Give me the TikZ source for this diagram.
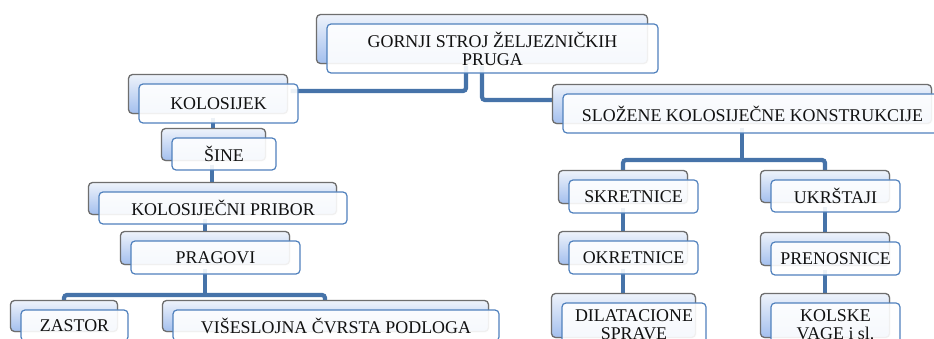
\documentclass[tikz,border=0pt]{standalone}
\usepackage{fontspec}
\setmainfont{Liberation Serif}
\usetikzlibrary{calc,backgrounds,shadows}
\definecolor{linec}{HTML}{4673A9}
\definecolor{frontdraw}{HTML}{5081BD}
\definecolor{backdraw}{HTML}{6E6E6E}
\definecolor{boxtop}{HTML}{EEF3FB}
\definecolor{boxbot}{HTML}{A3BFEE}
\definecolor{txt}{HTML}{111111}
\tikzset{
  backbox/.style={draw=backdraw, line width=1.3pt, rounded corners=4pt,
    top color=boxtop, bottom color=boxbot, inner sep=0pt,
    drop shadow={shadow xshift=0.8pt, shadow yshift=-0.8pt, opacity=0.25}},
  frontbox/.style={draw=frontdraw, line width=1.2pt, rounded corners=4pt,
    fill=white, fill opacity=0.9, text opacity=1, text=txt, inner sep=0pt,
    align=center, font=\fontsize{17.9}{18}\selectfont},
  conn/.style={draw=linec, line width=4.2pt, rounded corners=3pt}
}
\newcommand{\ibox}[6]{%
  \node[backbox, minimum width=#4pt, minimum height=#5pt] (#1B) at ({#2-10.5},{#3-9.5}) {};
  \node[frontbox, minimum width=#4pt, minimum height=#5pt] (#1) at (#2,#3) {#6};}
\begin{document}
\begin{tikzpicture}[x=1pt,y=-1pt]
\useasboundingbox (0,0) rectangle (934,339);
\clip (0,0) rectangle (934,339);
% boxes
\ibox{gornji}{492.5}{48.5}{331}{49}{GORNJI STROJ ŽELJEZNIČKIH\\PRUGA}
\ibox{kolosijek}{218.5}{103.5}{159}{39}{KOLOSIJEK}
\ibox{sine}{224}{154}{104}{32}{ŠINE}
\ibox{pribor}{223}{208}{248}{32}{KOLOSIJEČNI PRIBOR}
\ibox{pragovi}{215.5}{257.5}{169}{33}{PRAGOVI}
\ibox{zastor}{74.5}{325.5}{107}{31}{ZASTOR}
\ibox{visesl}{336}{325.5}{326}{31}{VIŠESLOJNA ČVRSTA PODLOGA}
\ibox{slozene}{752.5}{113.5}{379}{39}{SLOŽENE KOLOSIJEČNE KONSTRUKCIJE}
\ibox{skretnice}{633.5}{196.5}{129}{33}{SKRETNICE}
\ibox{ukrstaji}{835.5}{196}{129}{32}{UKRŠTAJI}
\ibox{okretnice}{633.5}{257.5}{129}{33}{OKRETNICE}
\ibox{prenosnice}{835.5}{258.5}{129}{33}{PRENOSNICE}
\ibox{dilat}{634}{325}{144}{44}{DILATACIONE\\SPRAVE}
\ibox{kolske}{835.5}{325}{129}{44}{KOLSKE\\VAGE i sl.}
% bend points
\coordinate (j1) at (466,91);
\coordinate (j2) at (482,100);
\coordinate (x1) at (213,0);
\coordinate (x2) at (212,0);
\coordinate (x3) at (205,0);
\coordinate (j6) at (205,295);
\coordinate (j6l) at (64,295);
\coordinate (j6r) at (325,295);
\coordinate (j7) at (742,160);
\coordinate (j7l) at (623,160);
\coordinate (j7r) at (825,160);
\begin{pgfonlayer}{background}
\fill[white] (0,0) rectangle (934,339);
\draw[conn] ($(gornji.south -| j1)+(0,-8)$) -- (j1) -- ($(kolosijek.east |- j1)+(-8,0)$);
\draw[conn] ($(gornji.south -| j2)+(0,-8)$) -- (j2) -- ($(slozeneB.west |- j2)+(8,0)$);
\draw[conn] ($(kolosijek.south -| x1)+(0,-6)$) -- ($(sineB.north -| x1)+(0,6)$);
\draw[conn] ($(sine.south -| x2)+(0,-6)$) -- ($(priborB.north -| x2)+(0,6)$);
\draw[conn] ($(pribor.south -| x3)+(0,-6)$) -- ($(pragoviB.north -| x3)+(0,6)$);
\draw[conn] ($(pragovi.south -| j6)+(0,-6)$) -- (j6);
\draw[conn] ($(zastorB.north -| j6l)+(0,6)$) -- (j6l) -- (j6r) -- ($(viseslB.north -| j6r)+(0,6)$);
\draw[conn] ($(slozene.south -| j7)+(0,-6)$) -- (j7);
\draw[conn] ($(skretniceB.north -| j7l)+(0,6)$) -- (j7l) -- (j7r) -- ($(ukrstajiB.north -| j7r)+(0,6)$);
\draw[conn] ($(skretnice.south -| j7l)+(0,-6)$) -- ($(okretniceB.north -| j7l)+(0,6)$);
\draw[conn] ($(okretnice.south -| j7l)+(0,-6)$) -- ($(dilatB.north -| j7l)+(0,6)$);
\draw[conn] ($(ukrstaji.south -| j7r)+(0,-6)$) -- ($(prenosniceB.north -| j7r)+(0,6)$);
\draw[conn] ($(prenosnice.south -| j7r)+(0,-6)$) -- ($(kolskeB.north -| j7r)+(0,6)$);
\end{pgfonlayer}
\end{tikzpicture}
\end{document}
